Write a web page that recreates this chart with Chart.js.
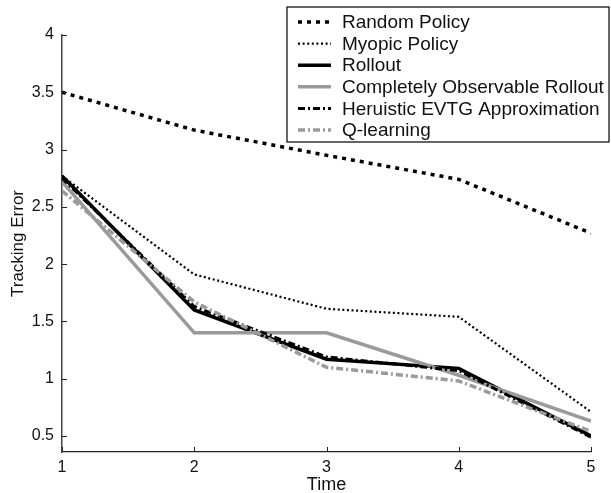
<!DOCTYPE html>
<html>
<head>
<meta charset="utf-8">
<script src="https://cdn.jsdelivr.net/npm/chart.js@4.4.1/dist/chart.umd.min.js"></script>
<style>
  html, body { margin: 0; padding: 0; background: #fff; }
  #wrap { width: 611px; height: 493px; }
</style>
</head>
<body>
<div id="wrap"><canvas id="chart" width="611" height="493"></canvas></div>
<script>
// data
const times = [1, 2, 3, 4, 5];
const randomPolicy = [3.5, 3.17, 2.95, 2.74, 2.27];
const myopicPolicy = [2.77, 1.91, 1.61, 1.54, 0.71];
const rollout = [2.77, 1.60, 1.17, 1.09, 0.50];
const obsRollout = [2.72, 1.40, 1.40, 1.03, 0.63];
const heuristicEvtg = [2.75, 1.63, 1.19, 1.07, 0.49];
const qLearning = [2.64, 1.67, 1.10, 0.98, 0.54];
const yTicks = [0.5, 1, 1.5, 2, 2.5, 3, 3.5, 4];

const GRAY = "#9a9a9a";
const FONT = "'Liberation Sans', Arial, Helvetica, sans-serif";

function pts(vals) {
  return vals.map((v, i) => ({ x: times[i], y: v }));
}

const series = [
  { label: "Random Policy", data: randomPolicy, color: "#000", width: 3.5, dash: [4, 5] },
  { label: "Myopic Policy", data: myopicPolicy, color: "#000", width: 2.2, dash: [2, 2.6] },
  { label: "Rollout", data: rollout, color: "#000", width: 3.5, dash: [] },
  { label: "Completely Observable Rollout", data: obsRollout, color: GRAY, width: 3.5, dash: [] },
  { label: "Heruistic EVTG Approximation", data: heuristicEvtg, color: "#000", width: 3, dash: [7, 3, 2, 3] },
  { label: "Q-learning", data: qLearning, color: GRAY, width: 3.5, dash: [7, 3, 2, 3] },
];

// legend inside the plot, matlab style
const boxLegend = {
  id: "boxLegend",
  afterDraw(chart) {
    const ctx = chart.ctx;
    const x0 = 287, y0 = 7, w = 322, h = 135;
    ctx.save();
    ctx.fillStyle = "#fff";
    ctx.fillRect(x0, y0, w, h);
    ctx.strokeStyle = "#000";
    ctx.lineWidth = 1.2;
    ctx.strokeRect(x0, y0, w, h);
    ctx.font = "19px " + FONT;
    ctx.textBaseline = "middle";
    series.forEach((s, i) => {
      const y = 22 + i * 21.6;
      ctx.beginPath();
      ctx.strokeStyle = s.color;
      ctx.lineWidth = s.width;
      ctx.setLineDash(s.dash);
      ctx.moveTo(298, y);
      ctx.lineTo(331, y);
      ctx.stroke();
      ctx.setLineDash([]);
      ctx.fillStyle = "#111";
      ctx.fillText(s.label, 342, y + 1);
    });
    ctx.restore();
  },
};

// inward tick marks
const innerTicks = {
  id: "innerTicks",
  afterDraw(chart) {
    const ctx = chart.ctx;
    const xs = chart.scales.x, ys = chart.scales.y;
    const a = chart.chartArea;
    ctx.save();
    ctx.strokeStyle = "#222";
    ctx.lineWidth = 1;
    ctx.beginPath();
    yTicks.forEach((v) => {
      const py = Math.round(ys.getPixelForValue(v)) + 0.5;
      ctx.moveTo(a.left, py);
      ctx.lineTo(a.left + 5, py);
    });
    times.forEach((t) => {
      const px = Math.round(xs.getPixelForValue(t)) + 0.5;
      ctx.moveTo(px, a.bottom);
      ctx.lineTo(px, a.bottom - 5);
    });
    ctx.stroke();
    ctx.restore();
  },
};

new Chart(document.getElementById("chart"), {
  type: "line",
  data: {
    datasets: series.map((s, i) => ({
      label: s.label,
      data: pts(s.data),
      borderColor: s.color,
      borderWidth: s.width,
      borderDash: s.dash,
      pointRadius: 0,
      fill: false,
      tension: 0,
      order: series.length - i,
    })),
  },
  options: {
    responsive: false,
    animation: false,
    layout: { padding: { top: 35, right: 20, left: 0, bottom: 0 } },
    plugins: {
      legend: { display: false },
      tooltip: { enabled: false },
    },
    scales: {
      x: {
        type: "linear",
        min: 1,
        max: 5,
        afterBuildTicks: (sc) => { sc.ticks = times.map((v) => ({ value: v })); },
        afterFit: (sc) => { sc.height = 41; },
        grid: { display: false, drawTicks: false },
        border: { display: true, color: "#222", width: 1.2 },
        ticks: { color: "#111", padding: 6, font: { family: FONT, size: 16 }, maxRotation: 0 },
        title: {
          display: true,
          text: "Time",
          color: "#111",
          font: { family: FONT, size: 18 },
          padding: { top: 0, bottom: -3 },
        },
      },
      y: {
        min: 0.36,
        max: 4,
        afterBuildTicks: (sc) => { sc.ticks = yTicks.map((v) => ({ value: v })); },
        afterFit: (sc) => { sc.width = 62; },
        grid: { display: false, drawTicks: false },
        border: { display: true, color: "#444", width: 1.5 },
        ticks: {
          color: "#111",
          padding: 8,
          font: { family: FONT, size: 16 },
          callback: (v) => String(v),
        },
        title: {
          display: true,
          text: "Tracking Error",
          color: "#111",
          font: { family: FONT, size: 17 },
          padding: { top: 8, bottom: 0 },
        },
      },
    },
  },
  plugins: [innerTicks, boxLegend],
});
</script>
</body>
</html>
